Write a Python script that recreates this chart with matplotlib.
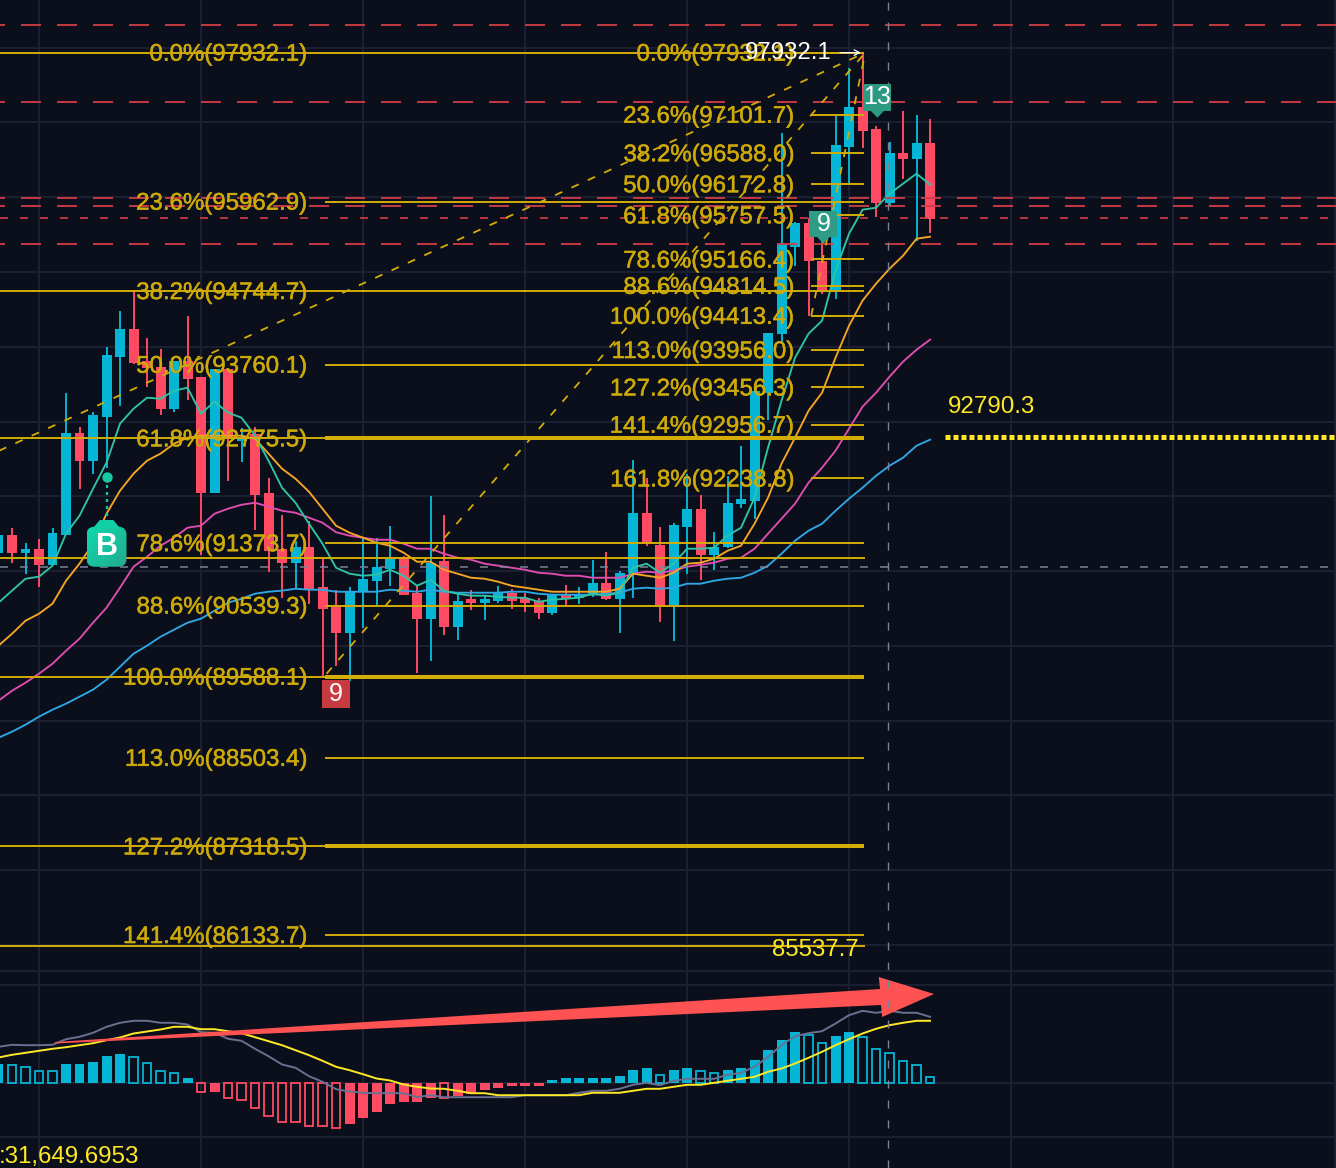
import numpy as np
import matplotlib
matplotlib.use("Agg")
import matplotlib.pyplot as plt
import matplotlib.patheffects as pe
from matplotlib.colors import LinearSegmentedColormap
from matplotlib.patches import FancyBboxPatch, Polygon, Rectangle

plt.rcParams['font.family'] = ['Liberation Sans', 'DejaVu Sans']
plt.rcParams['lines.scale_dashes'] = False

# candles, oldest first
opens = [91246, 91486, 91246, 91299, 91085, 91486, 92850, 92476, 93064, 93867,
         94241, 93813, 93733, 93171, 93813, 93599, 92048, 93706, 92743, 92837,
         92048, 91299, 91112, 91326, 90791, 90524, 90176, 90724, 90871, 91032,
         91192, 90711, 90363, 91139, 90256, 90630, 90577, 90604, 90711, 90644,
         90604, 90443, 90697, 90644, 90697, 90844, 90630, 90978, 91780, 91353,
         90550, 91593, 91834, 91219, 91326, 91901, 91941, 93385, 94174, 95337,
         95658, 95150, 94749, 96675, 97210, 96915, 95926, 96594, 96514, 96728]
closes = [91486, 91246, 91299, 91085, 91513, 92850, 92476, 93091, 93893, 94241,
          93786, 93719, 93171, 93813, 93572, 92048, 93706, 92783, 92783, 92021,
          91272, 91112, 91326, 90764, 90497, 90176, 90724, 90898, 91058, 91165,
          90684, 90363, 91112, 90256, 90604, 90577, 90630, 90711, 90604, 90577,
          90443, 90697, 90630, 90697, 90844, 90630, 90978, 91780, 91379, 90550,
          91620, 91834, 91219, 91326, 91914, 91968, 93412, 94187, 95378, 95658,
          95150, 94749, 96701, 97210, 96889, 95926, 96594, 96514, 96728, 95712]
highs = [91567, 91580, 91379, 91433, 91580, 93385, 92930, 93131, 94000, 94482,
         94762, 94121, 93973, 93813, 94415, 93599, 93706, 93706, 92917, 92930,
         92249, 91754, 91406, 91674, 91165, 90751, 90791, 91446, 91446, 91607,
         91205, 90804, 92008, 91754, 90711, 90751, 90671, 90804, 90764, 90711,
         90644, 90697, 90818, 90791, 91152, 91259, 91005, 92489, 92249, 91593,
         91647, 92302, 92021, 91526, 92275, 92676, 93439, 94187, 96862, 95672,
         95725, 95418, 97089, 97731, 97918, 96955, 96742, 97156, 97103, 97049]
lows = [91139, 91112, 90965, 90791, 91085, 91486, 92101, 92302, 92382, 93211,
        93773, 93465, 93091, 93131, 93292, 91219, 92048, 92208, 92462, 91553,
        90992, 90644, 90764, 90564, 89601, 89735, 89534, 90243, 90550, 90804,
        90684, 89641, 89801, 90149, 90082, 90483, 90350, 90577, 90497, 90457,
        90363, 90417, 90537, 90564, 90657, 90617, 90176, 90644, 91339, 90323,
        90069, 90965, 90885, 91018, 91312, 91847, 91700, 93024, 94040, 95083,
        94415, 94709, 94642, 96180, 96661, 95739, 95886, 96247, 95418, 95525]

# moving averages
ma_teal = [90577, 90738, 90898, 90925, 91072, 91500, 91740, 92101, 92449, 92971,
           93171, 93318, 93305, 93412, 93452, 93104, 93265, 93118, 93051, 92810,
           92476, 92115, 91914, 91633, 91366, 91045, 90965, 90938, 90951, 91018,
           90938, 90804, 90885, 90738, 90697, 90671, 90671, 90657, 90644, 90644,
           90590, 90617, 90630, 90644, 90697, 90671, 90711, 91045, 91099, 90978,
           91099, 91299, 91299, 91312, 91473, 91580, 91981, 92650, 93279, 93853,
           94174, 94348, 95017, 95511, 95832, 95859, 96046, 96180, 96314, 96167]
ma_orange = [90002, 90162, 90336, 90430, 90564, 90871, 91099, 91366, 91767, 92075,
             92302, 92476, 92570, 92703, 92783, 92810, 92810, 92810, 92810, 92770,
             92570, 92369, 92235, 92061, 91834, 91607, 91513, 91446, 91379, 91339,
             91246, 91125, 91125, 91018, 90965, 90911, 90898, 90858, 90804, 90778,
             90751, 90724, 90724, 90724, 90724, 90724, 90764, 90965, 90938, 90911,
             90978, 91099, 91112, 91165, 91272, 91339, 91633, 91981, 92436, 92783,
             93144, 93385, 93853, 94281, 94616, 94843, 95043, 95217, 95444, 95471]
ma_magenta = [89267, 89400, 89507, 89628, 89761, 89935, 90096, 90310, 90510, 90778,
              91058, 91192, 91339, 91446, 91580, 91607, 91767, 91834, 91887, 91914,
              91861, 91807, 91780, 91714, 91647, 91520, 91473, 91446, 91419, 91419,
              91366, 91299, 91299, 91232, 91179, 91152, 91099, 91072, 91045, 91018,
              90978, 90965, 90938, 90938, 90911, 90911, 90911, 90965, 90992, 90978,
              91005, 91058, 91085, 91112, 91165, 91179, 91299, 91500, 91700, 91901,
              92182, 92382, 92610, 92904, 93198, 93385, 93599, 93800, 93960, 94094]
ma_blue = [88772, 88852, 88946, 89053, 89146, 89227, 89320, 89414, 89547, 89721,
           89895, 90002, 90122, 90216, 90310, 90363, 90470, 90577, 90630, 90697,
           90724, 90738, 90764, 90751, 90751, 90724, 90724, 90724, 90724, 90751,
           90738, 90724, 90751, 90724, 90711, 90711, 90711, 90711, 90724, 90724,
           90697, 90684, 90684, 90684, 90684, 90697, 90711, 90764, 90778, 90764,
           90778, 90831, 90831, 90871, 90898, 90911, 90978, 91072, 91232, 91406,
           91540, 91633, 91807, 91968, 92115, 92275, 92409, 92516, 92676, 92757]

# MACD panel
macd_hist = [183, 177, 157, 117, 117, 183, 183, 203, 263, 283,
             257, 197, 117, 97, 43, -90, -97, -150, -170, -250,
             -330, -390, -390, -430, -430, -450, -413, -353, -293, -213,
             -193, -193, -153, -153, -133, -110, -77, -53, -33, -33,
             -33, 23, 43, 43, 43, 43, 63, 123, 143, 77,
             123, 143, 117, 97, 123, 143, 223, 323, 423, 503,
             477, 400, 463, 503, 457, 340, 300, 220, 177, 57]
macd_hollow = [0, 1, 1, 1, 1, 0, 0, 0, 0, 0,
               1, 1, 1, 1, 0, 1, 0, 1, 1, 1,
               1, 1, 1, 1, 1, 1, 0, 0, 0, 0,
               0, 0, 0, 1, 0, 0, 0, 0, 0, 0,
               0, 0, 0, 0, 0, 0, 0, 0, 0, 1,
               0, 0, 1, 1, 0, 0, 0, 0, 0, 0,
               1, 1, 0, 0, 1, 1, 1, 1, 1, 1]
macd_dif = [357, 377, 373, 373, 377, 433, 457, 497, 557, 597,
            617, 617, 597, 597, 580, 503, 497, 437, 417, 337,
            263, 180, 147, 63, 7, -67, -90, -103, -107, -107,
            -107, -147, -127, -147, -147, -147, -147, -147, -147, -127,
            -127, -127, -127, -103, -83, -83, -63, -23, -3, -27,
            17, 37, 37, 37, 77, 97, 157, 257, 373, 463,
            493, 513, 590, 673, 717, 697, 717, 697, 697, 657]
macd_dea = [250, 277, 297, 317, 337, 353, 373, 393, 423, 450,
            490, 510, 530, 557, 557, 533, 533, 513, 493, 453,
            413, 373, 323, 273, 217, 157, 123, 83, 40, 20,
            -20, -43, -60, -63, -83, -107, -107, -127, -127, -127,
            -127, -127, -127, -127, -103, -103, -103, -83, -63, -63,
            -43, -23, -23, -3, 17, 37, 57, 107, 140, 190,
            247, 307, 373, 433, 490, 537, 573, 597, 617, 617]

# fibonacci sets: left one and right one
fib_a_pct = ['0.0', '23.6', '38.2', '50.0', '61.8', '78.6', '88.6', '100.0', '113.0', '127.2', '141.4']
fib_a_price = [97932.1, 95962.9, 94744.7, 93760.1, 92775.5, 91373.7, 90539.3, 89588.1, 88503.4, 87318.5, 86133.7]
fib_a_line = [97932.1, 95940.0, 94744.7, 93760.1, 92775.5, 91373.7, 90539.3, 89588.1, 88503.4, 87318.5, 86133.7]
fib_a_thick = ['61.8', '100.0', '127.2']
fib_a_full = ['0.0', '38.2', '61.8', '100.0', '127.2']
fib_b_pct = ['0.0', '23.6', '38.2', '50.0', '61.8', '78.6', '88.6', '100.0', '113.0', '127.2', '141.4', '161.8']
fib_b_price = [97932.1, 97101.7, 96588.0, 96172.8, 95757.5, 95166.4, 94814.5, 94413.4, 93956.0, 93456.3, 92956.7, 92238.8]
fib_extra_price = [91180, 85990]

# horizontal red levels
red_levels = [98306, 97277, 95993, 95886, 95378]
red_short_level = 95725
cross_price = 91050
cross_index = 65.9
price_line = 92790.3

# swing lines that end at the top of the move
swing_starts = [(-1.4, 92489), (24.3, 89628), (60.2, 94413.4)]
swing_end = (64.2, 97932.1)

BG = '#0b0f1c'
GRID = '#1b2033'
CYAN = '#04b5d6'
RED = '#ff4a63'
FIB = '#d4ad06'
FIB_TEXT = '#cdaa08'
YELLOW = '#ffe926'
RED_DASH = '#d43c44'
GRAY = '#7b8396'

x_left, x_right = 0.111, 99.07
idx = np.arange(len(opens))
PX = 1 / 1.3889  # one pixel in points at dpi 100
TEXT_SHIFT = 27  # labels sit a little under their line
LABEL_FX = [pe.withStroke(linewidth=0.35, foreground=FIB_TEXT)]

fig = plt.figure(figsize=(13.36, 11.68), dpi=100, facecolor=BG)
ax = fig.add_axes([0, 198 / 1168, 1, 970 / 1168])
ax2 = fig.add_axes([0, 0, 1, 198 / 1168])

for a in (ax, ax2):
    a.set_facecolor(BG)
    a.set_xlim(x_left, x_right)
    a.set_xticks(np.arange(3, 100, 12))
    a.tick_params(length=0, labelbottom=False, labelleft=False)
    a.grid(True, color=GRID, lw=1.4)
    a.set_axisbelow(True)
    for s in a.spines.values():
        s.set_visible(False)
    a.axvline(cross_index, color=GRAY, lw=1.0, dashes=(8 * PX, 12 * PX), zorder=7)

ax.set_yticks(np.arange(86000, 99000, 1000))
ax2.set_yticks([1115, 975, 0, -545])

# candles
up = np.array(closes) >= np.array(opens)
colors = [CYAN if u else RED for u in up]
ax.vlines(idx, lows, highs, colors=colors, lw=1.4, zorder=2)
ax.bar(idx, np.abs(np.array(closes) - np.array(opens)), bottom=np.minimum(opens, closes),
       width=0.74, color=colors, zorder=2)

# moving averages
ax.plot(idx, ma_blue, color='#2ea8e5', lw=1.35, zorder=3)
ax.plot(idx, ma_magenta, color='#e04db0', lw=1.35, zorder=3)
ax.plot(idx, ma_orange, color='#f5a623', lw=1.35, zorder=3)
ax.plot(idx, ma_teal, color='#2fc4a4', lw=1.35, zorder=3)

# red levels
for p in red_levels:
    ax.plot([x_left, x_right], [p, p], color=RED_DASH, lw=1.3,
            linestyle=(15 * PX, (20 * PX, 16 * PX)), zorder=4)
ax.plot([x_left, x_right], [red_short_level, red_short_level], color=RED_DASH, lw=1.2,
        linestyle=(0, (8 * PX, 12 * PX)), zorder=4)
ax.plot([x_left, x_right], [cross_price, cross_price], color=GRAY, lw=1.1,
        linestyle=(0, (8 * PX, 12 * PX)), zorder=7)

# fibonacci lines, left set
a_start = (325 + 1.5) / 13.5
fib_end = (864 + 1.5) / 13.5
for pct, price, line in zip(fib_a_pct, fib_a_price, fib_a_line):
    lw = 2.9 if pct in fib_a_thick else 1.4
    ax.plot([a_start, fib_end], [line, line], color=FIB, lw=lw, solid_capstyle='butt', zorder=5)
    if pct in fib_a_full:
        ax.plot([x_left, a_start], [line, line], color=FIB, lw=1.4, solid_capstyle='butt', zorder=5)
    ax.text((307 + 1.5) / 13.5, line - TEXT_SHIFT, f"{pct}%({price})", color=FIB_TEXT, fontsize=17.3,
            ha='right', va='center', zorder=8, path_effects=LABEL_FX)
for price in fib_extra_price:
    ax.plot([x_left, fib_end], [price, price], color=FIB, lw=1.4, zorder=5)

# fibonacci lines, right set
b_start = (811 + 1.5) / 13.5
for pct, price in zip(fib_b_pct, fib_b_price):
    ax.plot([b_start, fib_end], [price, price], color=FIB, lw=1.4, solid_capstyle='butt', zorder=5)
    ax.text((794 + 1.5) / 13.5, price - TEXT_SHIFT, f"{pct}%({price})", color=FIB_TEXT, fontsize=17.3,
            ha='right', va='center', zorder=8, path_effects=LABEL_FX)

# dashed swings
for sx, sy in swing_starts:
    ax.plot([sx, swing_end[0]], [sy, swing_end[1]], color=FIB, lw=1.3,
            linestyle=(0, (8 * PX, 10 * PX)), zorder=5)

# labels on the price panel
ax.text((832 + 1.5) / 13.5, 97930, '97932.1', color='white', fontsize=17.3, ha='right', va='center', zorder=9)
ax.annotate('', xy=((861 + 1.5) / 13.5, 97932.1), xytext=((840 + 1.5) / 13.5, 97932.1),
            arrowprops=dict(arrowstyle='->', color='white', lw=0.9, shrinkA=0, shrinkB=0), zorder=9)
ax.text((859 + 1.5) / 13.5, 85933, '85537.7', color=YELLOW, fontsize=17.3, ha='right', va='center', zorder=9)
ax.text((948 + 1.5) / 13.5, 93193, '92790.3', color=YELLOW, fontsize=17.4, ha='left', va='center', zorder=9)
ax.plot([(945 + 1.5) / 13.5, x_right], [price_line, price_line], color=YELLOW, lw=3.6,
        linestyle=(0, (5 * PX, 3 * PX)), zorder=6)


def badge(center, top, width, height, color, label, pointer=False):
    # square tag with a number, sizes in pixels
    w = width / 13.5
    h = height * 13.372
    ax.add_patch(Rectangle((center - w / 2, top - h), w, h, facecolor=color, edgecolor='none', zorder=8))
    if pointer:
        ax.add_patch(Polygon([(center - 0.5, top - h), (center + 0.5, top - h), (center, top - h - 7 * 13.372)],
                             facecolor=color, edgecolor='none', zorder=8))
    ax.text(center, top - h / 2, label, color='white', fontsize=18, ha='center', va='center', zorder=9)


badge(25, 89548, 28, 28, '#c73a3f', '9')
badge(61.1, 95820, 28, 26, '#2f9d86', '9', pointer=True)
badge(65.1, 97517, 28, 27, '#2b9a80', '13', pointer=True)

# buy signal, gradient tag
b_x, b_top = 8, 91593
tag_cmap = LinearSegmentedColormap.from_list('tag', ['#0cdcb0', '#24ab8e'])
tag_fill = np.add.outer(np.linspace(0, 0.5, 40), np.linspace(0, 0.5, 40))
tag_img = ax.imshow(tag_fill, cmap=tag_cmap, vmin=0, vmax=1, aspect='auto', zorder=8,
                    extent=(b_x - 1.48, b_x + 1.48, b_top - 535, b_top + 90))
tag_box = FancyBboxPatch((b_x - 1.48, b_top - 535), 2.96, 535,
                         boxstyle='round,pad=0,rounding_size=0.6', mutation_aspect=180.5,
                         facecolor='#14c9a4', edgecolor='none', zorder=8)
ax.add_patch(tag_box)
tag_img.set_clip_path(tag_box)
tag_box.set_visible(False)
ax.add_patch(Polygon([(b_x - 1.0, b_top - 20), (b_x - 0.5, b_top + 90), (b_x + 0.5, b_top + 90), (b_x + 1.0, b_top - 20)],
                     facecolor='#10d0a8', edgecolor='none', zorder=8))
ax.text(b_x, b_top - 267, 'B', color='white', fontsize=22, fontweight='bold', ha='center', va='center', zorder=9)
ax.plot([b_x, b_x], [91740, 92220], color='#14c9a4', lw=1.6, linestyle=(0, (3 * PX, 4 * PX)), zorder=6)
ax.plot([b_x], [92257], marker='o', ms=7.5, color='#14c9a4', mec='none', zorder=7)

# MACD panel
for i, v in enumerate(macd_hist):
    c = CYAN if v >= 0 else RED
    if macd_hollow[i]:
        ax2.bar(i, v, width=0.66, facecolor='none', edgecolor=c, lw=1.3, zorder=2)
    else:
        ax2.bar(i, v, width=0.74, color=c, zorder=2)
ax2.plot(idx, macd_dif, color='#6a7090', lw=1.4, zorder=3)
ax2.plot(idx, macd_dea, color=YELLOW, lw=1.4, zorder=3)

# big red arrow
arrow_x = [4.18, 65.3, 65.2, 69.3, 65.45, 65.37, 4.18]
arrow_y = [405, 935, 1055, 885, 655, 775, 390]
ax2.add_patch(Polygon(list(zip(arrow_x, arrow_y)), facecolor='#ff5252', edgecolor='none', zorder=6))

ax2.text(0.05, -745, ':31,649.6953', color=YELLOW, fontsize=17.4, ha='left', va='center', zorder=9)

# limits last, imshow resets them
ax.set_xlim(x_left, x_right)
ax.set_ylim(85666, 98636)
ax2.set_ylim(-855, 1125)

fig.savefig('out.png', dpi=100, facecolor=BG)
plt.close(fig)
